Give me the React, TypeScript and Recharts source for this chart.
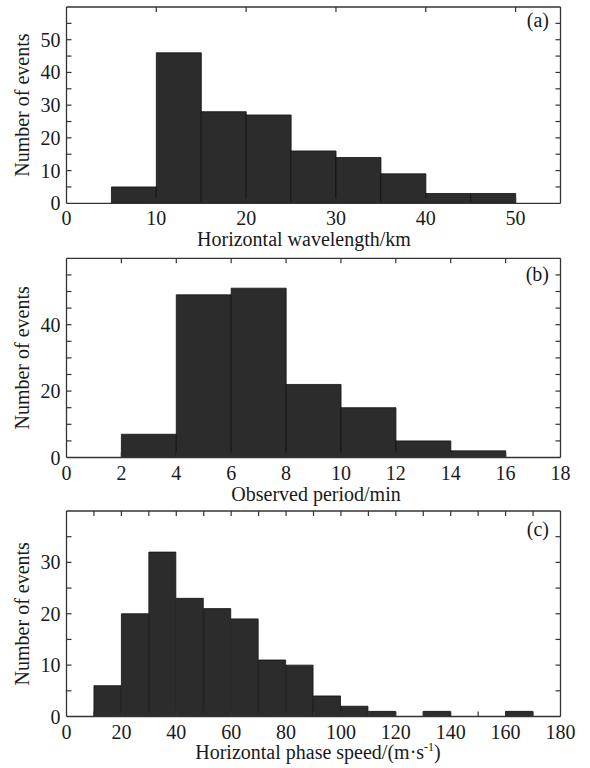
import React from "react"
import { Bar, BarChart, ReferenceLine, XAxis, YAxis } from "recharts"

const FONT = '"Liberation Serif", "Times New Roman", Times, serif'
const INK = "#1a1a1a"
const FRAME = "#333333"
const BAR_FILL = "#2c2c2c"

// (a) horizontal wavelength, 5 km bins (bin centres)
const wavelengthBins = [2.5, 7.5, 12.5, 17.5, 22.5, 27.5, 32.5, 37.5, 42.5, 47.5, 52.5]
const wavelengthCounts = [0, 5, 46, 28, 27, 16, 14, 9, 3, 3, 0]
const wavelengthXTicks = [0, 10, 20, 30, 40, 50]
const wavelengthYTicks = [0, 5, 10, 15, 20, 25, 30, 35, 40, 45, 50, 55]
const wavelengthYLabels = [0, 10, 20, 30, 40, 50]

// (b) observed period, 2 min bins
const periodBins = [1, 3, 5, 7, 9, 11, 13, 15, 17]
const periodCounts = [0, 7, 49, 51, 22, 15, 5, 2, 0]
const periodXTicks = [0, 2, 4, 6, 8, 10, 12, 14, 16, 18]
const periodYTicks = [0, 5, 10, 15, 20, 25, 30, 35, 40, 45, 50, 55]
const periodYLabels = [0, 20, 40, 60]

// (c) horizontal phase speed, 10 m/s bins
const speedBins = [5, 15, 25, 35, 45, 55, 65, 75, 85, 95, 105, 115, 125, 135, 145, 155, 165, 175]
const speedCounts = [0, 6, 20, 32, 23, 21, 19, 11, 10, 4, 2, 1, 0, 1, 0, 0, 1, 0]
const speedXTicks = [0, 10, 20, 30, 40, 50, 60, 70, 80, 90, 100, 110, 120, 130, 140, 150, 160, 170, 180]
const speedXLabels = [0, 20, 40, 60, 80, 100, 120, 140, 160, 180]
const speedYTicks = [0, 5, 10, 15, 20, 25, 30, 35]
const speedYLabels = [0, 10, 20, 30, 40]

const TICK_LEN = 5
const PLOT_W = 494

// bottom ticks also draw the mirrored tick on the top edge of the box
function BottomTick(props: any) {
  const { x, y, payload, labels, plotH, xMax } = props
  const v = payload.value
  const inner = v > 0 && v < xMax
  return (
    <g>
      {inner && <line x1={x} x2={x} y1={y} y2={y - TICK_LEN} stroke={FRAME} strokeWidth={1.2} />}
      {inner && <line x1={x} x2={x} y1={y - plotH} y2={y - plotH + TICK_LEN} stroke={FRAME} strokeWidth={1.2} />}
      {labels.includes(v) && (
        <text x={x} y={y + 15} dy="0.35em" textAnchor="middle" fill={INK} fontSize={20} fontFamily={FONT}>
          {v}
        </text>
      )}
    </g>
  )
}

// left ticks also draw the mirrored tick on the right edge
function LeftTick(props: any) {
  const { x, y, payload, labels } = props
  const v = payload.value
  return (
    <g>
      {v > 0 && <line x1={x} x2={x + TICK_LEN} y1={y} y2={y} stroke={FRAME} strokeWidth={1.2} />}
      {v > 0 && <line x1={x + PLOT_W} x2={x + PLOT_W - TICK_LEN} y1={y} y2={y} stroke={FRAME} strokeWidth={1.2} />}
      {labels.includes(v) && (
        <text x={x - 6} y={y} dy="0.35em" textAnchor="end" fill={INK} fontSize={20} fontFamily={FONT}>
          {v}
        </text>
      )}
    </g>
  )
}

function Panel(props: any) {
  const {
    top, height, plotTop, axisHeight, bins, counts, xMax, xTicks, xLabels,
    yMax, yTicks, yLabels, xTitle, titleX, titleY, tag, tagY,
  } = props
  const rows = bins.map((b: number, i: number) => ({ bin: b, count: counts[i] }))
  const plotBottom = height - axisHeight
  const plotH = plotBottom - plotTop
  const midY = (plotTop + plotBottom) / 2

  const Titles = () => (
    <g fontFamily={FONT} fill={INK}>
      <text
        x={22}
        y={midY}
        transform={`rotate(-90, 22, ${midY})`}
        textAnchor="middle"
        dy="0.35em"
        fontSize={20}
      >
        Number of events
      </text>
      <text x={titleX} y={plotBottom + titleY} dy="0.35em" textAnchor="middle" fontSize={20}>
        {xTitle}
      </text>
      <text x={549} y={tagY} dy="0.35em" textAnchor="end" fontSize={20}>
        {tag}
      </text>
    </g>
  )

  return (
    <div style={{ position: "absolute", left: 0, top }}>
      <BarChart
        width={590}
        height={height}
        data={rows}
        margin={{ top: plotTop, right: 29.5, bottom: 0, left: 0 }}
        barCategoryGap={0}
        barGap={0}
      >
        <XAxis
          dataKey="bin"
          type="number"
          domain={[0, xMax]}
          ticks={xTicks}
          interval={0}
          allowDataOverflow
          height={axisHeight}
          tickSize={0}
          tickMargin={0}
          tickLine={false}
          axisLine={{ stroke: FRAME, strokeWidth: 1.3 }}
          tick={<BottomTick labels={xLabels} plotH={plotH} xMax={xMax} />}
          label={<Titles />}
        />
        <YAxis
          type="number"
          domain={[0, yMax]}
          ticks={yTicks}
          interval={0}
          allowDataOverflow
          width={66.5}
          tickSize={0}
          tickMargin={0}
          tickLine={false}
          axisLine={{ stroke: FRAME, strokeWidth: 1.3 }}
          tick={<LeftTick labels={yLabels} />}
        />
        <Bar
          dataKey="count"
          fill={BAR_FILL}
          stroke="#111111"
          strokeWidth={0.8}
          isAnimationActive={false}
        />
        <ReferenceLine y={yMax} stroke={FRAME} strokeWidth={1.3} ifOverflow="visible" />
        <ReferenceLine x={xMax} stroke={FRAME} strokeWidth={1.3} ifOverflow="visible" />
      </BarChart>
    </div>
  )
}

export default function App() {
  return (
    <div style={{ position: "absolute", left: 0, top: 0, width: 590, height: 768, background: "#fff", fontFamily: FONT }}>
      <Panel
        top={0}
        height={256}
        plotTop={7}
        axisHeight={52.7}
        bins={wavelengthBins}
        counts={wavelengthCounts}
        xMax={55}
        xTicks={wavelengthXTicks}
        xLabels={wavelengthXTicks}
        yMax={60}
        yTicks={wavelengthYTicks}
        yLabels={wavelengthYLabels}
        xTitle="Horizontal wavelength/km"
        titleX={304}
        titleY={36}
        tag="(a)"
        tagY={20}
      />
      <Panel
        top={256}
        height={256}
        plotTop={2.3}
        axisHeight={54.5}
        bins={periodBins}
        counts={periodCounts}
        xMax={18}
        xTicks={periodXTicks}
        xLabels={periodXTicks}
        yMax={60}
        yTicks={periodYTicks}
        yLabels={periodYLabels}
        xTitle="Observed period/min"
        titleX={316}
        titleY={36}
        tag="(b)"
        tagY={18}
      />
      <Panel
        top={505}
        height={263}
        plotTop={6}
        axisHeight={51.5}
        bins={speedBins}
        counts={speedCounts}
        xMax={180}
        xTicks={speedXTicks}
        xLabels={speedXLabels}
        yMax={40}
        yTicks={speedYTicks}
        yLabels={speedYLabels}
        xTitle={
          <>
            Horizontal phase speed/(m·s
            <tspan dy={-8} fontSize={12}>-1</tspan>
            <tspan dy={8}>)</tspan>
          </>
        }
        titleX={318}
        titleY={35}
        tag="(c)"
        tagY={24}
      />
    </div>
  )
}
